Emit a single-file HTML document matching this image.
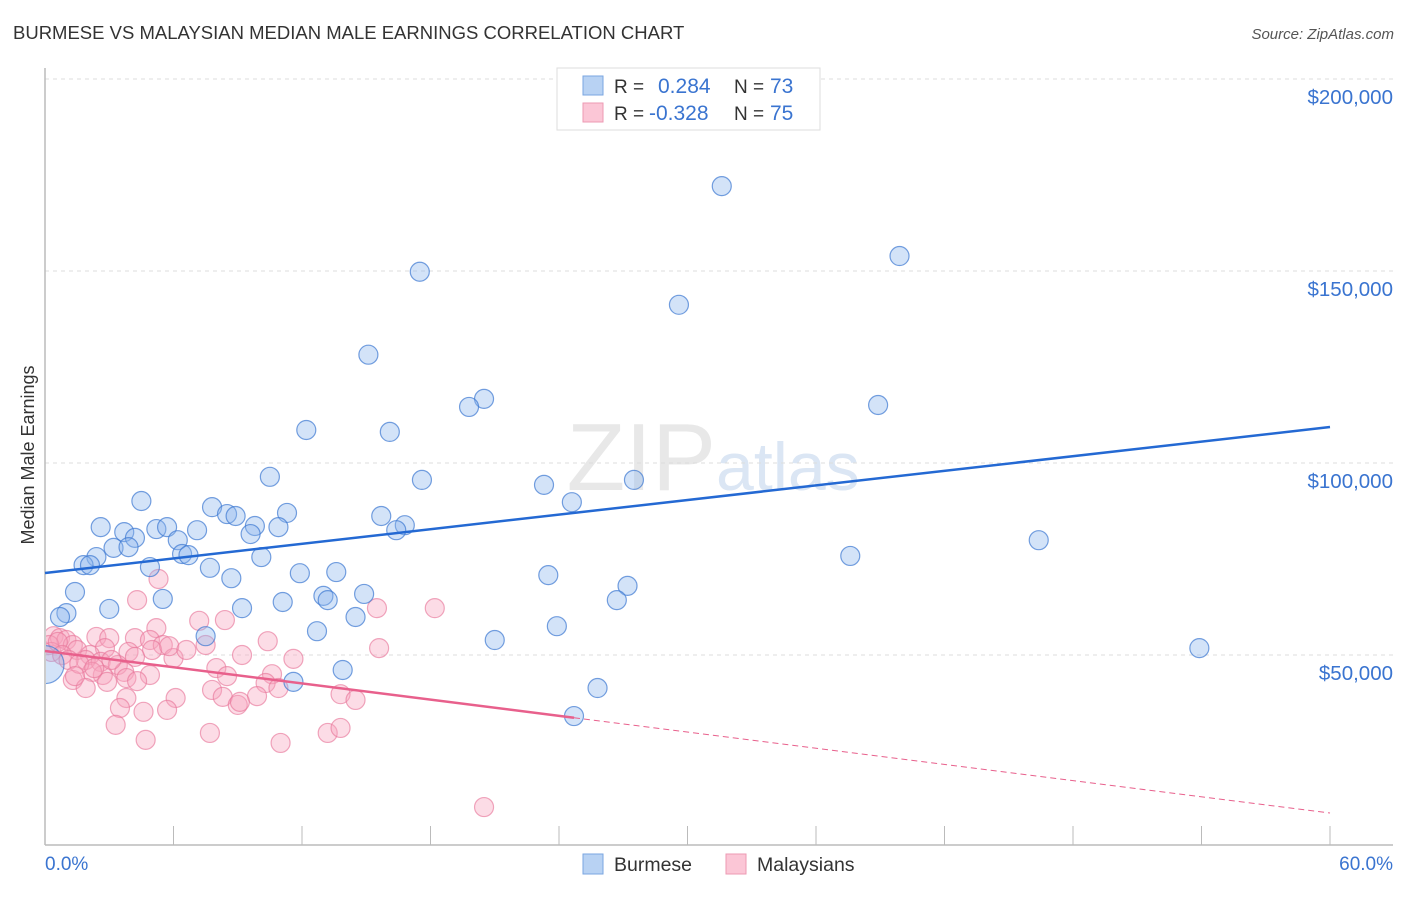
<!DOCTYPE html>
<html><head><meta charset="utf-8">
<style>
body{margin:0;background:#fff;font-family:"Liberation Sans",sans-serif;}
svg text{font-family:"Liberation Sans",sans-serif;}
</style></head>
<body>
<svg id="chart" width="1406" height="892" viewBox="0 0 1406 892" xmlns="http://www.w3.org/2000/svg">
<defs><clipPath id="plotclip"><rect x="46" y="60" width="1360" height="785"/></clipPath></defs>
<text x="13" y="39" font-size="18.5" fill="#333">BURMESE VS MALAYSIAN MEDIAN MALE EARNINGS CORRELATION CHART</text>
<text x="1394" y="39" font-size="15" fill="#555" font-style="italic" text-anchor="end">Source: ZipAtlas.com</text>
<text x="716" y="490" font-size="96" fill="#e8e8e8" text-anchor="end" font-family="Liberation Serif">ZIP</text>
<text x="716" y="490" font-size="68" fill="#dbe6f4">atlas</text>
<g id="grid"></g>
<g id="axes"></g>
<g id="pts" clip-path="url(#plotclip)"></g>
<g id="lines"></g>
<text x="34" y="455" font-size="18" fill="#333" text-anchor="middle" transform="rotate(-90 34 455)">Median Male Earnings</text>
<g>
<rect x="557" y="68" width="263" height="62" fill="#fff" stroke="#ddd"/>
<rect x="583" y="76" width="20" height="19" fill="#b8d2f3" stroke="#7aa6e0"/>
<text x="614" y="93" font-size="19" fill="#333">R =</text>
<text x="658" y="93" font-size="21" fill="#3a74d0">0.284</text>
<text x="734" y="93" font-size="19" fill="#333">N =</text>
<text x="770" y="93" font-size="21" fill="#3a74d0">73</text>
<rect x="583" y="103" width="20" height="19" fill="#fbc6d6" stroke="#ec9ab3"/>
<text x="614" y="120" font-size="19" fill="#333">R =</text>
<text x="649" y="120" font-size="21" fill="#3a74d0">-0.328</text>
<text x="734" y="120" font-size="19" fill="#333">N =</text>
<text x="770" y="120" font-size="21" fill="#3a74d0">75</text>
</g>
<g>
<rect x="583" y="854" width="20" height="20" fill="#b8d2f3" stroke="#7aa6e0"/>
<text x="614" y="871" font-size="19.5" fill="#333">Burmese</text>
<rect x="726" y="854" width="20" height="20" fill="#fbc6d6" stroke="#ec9ab3"/>
<text x="757" y="871" font-size="19.5" fill="#333">Malaysians</text>
</g>
</svg>
<script>
const yTicks=[50000,100000,150000,200000];
const yTickLabels=["$50,000","$100,000","$150,000","$200,000"];
const xTickLabels=["0.0%","60.0%"];
const burmeseX=[31.6,39.9,17.5,29.6,15.1,20.5,19.8,38.9,12.2,16.1,10.5,17.6,23.3,27.5,4.5,7.8,24.6,8.5,8.9,11.3,15.7,2.6,5.2,5.7,7.1,9.8,10.9,16.8,16.4,3.7,4.2,9.6,6.2,3.2,3.9,6.4,6.7,10.1,37.6,46.4,2.4,1.8,2.1,4.9,7.7,8.7,11.9,13.6,23.5,27.2,1.4,5.5,13.0,13.2,14.9,26.7,3.0,9.2,11.1,14.5,1.0,0.7,23.9,7.5,12.7,21.0,53.9,13.9,11.6,25.8,24.7,0.0];
const burmeseY=[172.1,153.9,149.8,141.2,128.2,116.7,114.6,115.1,108.6,108.1,96.4,95.6,94.3,95.6,90.1,88.5,89.8,86.7,86.2,87.0,86.2,83.3,82.8,83.3,82.5,83.6,83.3,83.8,82.5,82.0,80.5,81.5,79.9,77.9,78.1,76.3,76.0,75.5,75.8,79.9,75.5,73.4,73.4,72.9,72.7,70.0,71.3,71.6,70.8,68.0,66.4,64.6,65.4,64.3,65.9,64.3,62.0,62.2,63.8,59.9,60.9,59.9,57.5,54.9,56.2,53.9,51.8,46.1,43.0,41.4,34.1,47.5];
const malayX=[5.3,7.2,15.5,18.2,8.4,4.3,5.2,2.4,3.0,4.2,4.9,5.5,0.4,0.7,1.0,1.3,0.2,1.5,2.8,3.9,5.0,6.0,4.2,2.1,10.4,11.6,9.2,15.6,1.9,2.6,3.4,8.0,10.6,3.7,4.9,2.7,2.2,3.8,1.3,1.9,2.9,4.3,8.5,10.3,10.9,7.8,8.3,9.9,6.1,13.8,14.5,3.8,9.0,9.1,3.5,4.6,5.7,3.3,7.7,4.7,11.0,13.2,13.8,20.5,0.3,0.6,0.8,1.1,1.6,2.3,1.4,5.8,6.6,3.1,7.5];
const malayY=[69.8,58.9,62.2,62.2,59.1,64.3,57.0,54.7,54.4,54.4,53.9,52.6,54.9,54.4,53.9,52.6,52.6,51.3,51.8,50.8,51.3,49.2,49.5,50.0,53.6,49.0,50.0,51.8,48.7,48.2,47.4,46.6,45.0,45.6,44.8,44.8,45.6,44.0,43.5,41.4,43.0,43.2,44.5,42.7,41.4,40.9,39.1,39.3,38.8,39.8,38.3,38.8,37.0,37.8,36.2,35.2,35.7,31.8,29.7,27.9,27.1,29.7,31.0,10.4,50.8,53.4,50.0,48.7,47.7,46.6,44.5,52.3,51.3,48.7,52.6];
const burmeseTrend=[71.35,109.37];
const malayTrend=[51.04,8.85];
const malaySolidEnd=24.7;

const NS="http://www.w3.org/2000/svg";
function xs(v){return 45+v/60*1285;}
function ys(v){return 847-v/50000*192;}
function yk(v){return ys(v*1000);}
function mk(tag,attrs,parent){const e=document.createElementNS(NS,tag);for(const k in attrs)e.setAttribute(k,attrs[k]);parent.appendChild(e);return e;}
const grid=document.getElementById('grid'),axes=document.getElementById('axes'),pts=document.getElementById('pts'),lines=document.getElementById('lines');
yTicks.forEach((t,i)=>{
  const l=mk('line',{x1:45,x2:1393,y1:ys(t),y2:ys(t),stroke:'#ddd','stroke-dasharray':'4 4'},grid);
  
  
  const tx=mk('text',{x:1393,y:ys(t)+25,'font-size':20.5,fill:'#3a74d0','text-anchor':'end'},axes);
  tx.textContent=yTickLabels[i];
  
  
});
const ax=mk('line',{x1:45,x2:1393,y1:845,y2:845,stroke:'#bbb','stroke-width':1.5},axes);


const ay=mk('line',{x1:45,x2:45,y1:68,y2:845,stroke:'#bbb','stroke-width':1.5},axes);


for(let i=1;i<=10;i++){
  const t=mk('line',{x1:xs(i*6),x2:xs(i*6),y1:826,y2:845,stroke:'#bbb'},axes);
  
  
}
const xl0=mk('text',{x:45,y:870,'font-size':19,fill:'#3a74d0'},axes);xl0.textContent=xTickLabels[0];


const xl1=mk('text',{x:1393,y:870,'font-size':19,fill:'#3a74d0','text-anchor':'end'},axes);xl1.textContent=xTickLabels[1];



function drawPts(X,Y,fill,stroke,name){
  X.forEach((x,i)=>{
    const big=(x<0.1&&name==='burmese-point');
    const c=mk('circle',{cx:xs(x),cy:yk(Y[i]),r:big?19:9.5,fill:fill,stroke:stroke,'stroke-width':1.2},pts);
    
    
  });
}
drawPts(malayX,malayY,'rgba(246,164,190,0.38)','rgba(232,120,155,0.65)','malaysian-point');
drawPts(burmeseX,burmeseY,'rgba(140,182,236,0.38)','rgba(60,120,210,0.7)','burmese-point');

const bl=mk('line',{x1:xs(0),y1:yk(burmeseTrend[0]),x2:xs(60),y2:yk(burmeseTrend[1]),stroke:'#2469d3','stroke-width':2.5},lines);


const mAt=v=>malayTrend[0]+(malayTrend[1]-malayTrend[0])*v/60;
const ml=mk('line',{x1:xs(0),y1:yk(malayTrend[0]),x2:xs(malaySolidEnd),y2:yk(mAt(malaySolidEnd)),stroke:'#e8608c','stroke-width':2.5},lines);


const md=mk('line',{x1:xs(malaySolidEnd),y1:yk(mAt(malaySolidEnd)),x2:xs(60),y2:yk(malayTrend[1]),stroke:'#e8608c','stroke-width':1,'stroke-dasharray':'6 4'},lines);


</script>
</body></html>
